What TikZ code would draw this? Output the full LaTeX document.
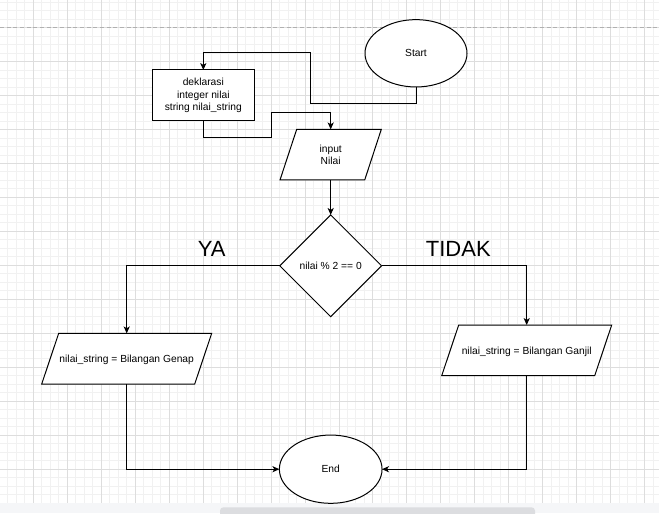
\documentclass[tikz,border=0pt]{standalone}
\usepackage{fontspec}
\setmainfont{Liberation Sans}
\usetikzlibrary{shapes.geometric,arrows.meta}
\definecolor{gridminor}{HTML}{F1F1F1}
\definecolor{gridmajor}{HTML}{DDDDDD}
\definecolor{pagebreak}{HTML}{B0B0B0}
\definecolor{bandgray}{HTML}{F5F6F8}
\definecolor{scrollgray}{HTML}{DCDDE0}
\begin{document}
\begin{tikzpicture}[x=0.75pt,y=-0.75pt,
  line/.style={draw=black, line width=0.75pt},
  arr/.style={line, -{Stealth[length=5.2pt,width=4.6pt,inset=1.4pt]}},
  shapeline/.style={draw=black, line width=0.75pt, fill=white},
  shapebase/.style={shapeline, font=\fontsize{7.7}{9.2}\selectfont, align=center, inner sep=0pt, outer sep=0pt},
  term/.style={shapebase, ellipse, minimum width=76.5pt, minimum height=50.5pt},
  procbox/.style={shapebase, rectangle, minimum width=76.5pt, minimum height=38.25pt},
  iotext/.style={font=\fontsize{7.7}{9.2}\selectfont, align=center, inner sep=0pt, outer sep=0pt, rectangle, minimum height=38pt},
  decision/.style={shapebase, diamond, minimum width=76.3pt, minimum height=76.3pt, aspect=1},
  biglabel/.style={inner sep=0pt, font=\fontsize{16.5}{18}\selectfont}
]
\useasboundingbox (0,0) rectangle (659,513);
\clip (0,0) rectangle (659,513);
\fill[white] (0,0) rectangle (659,513);
% grid
\foreach \i in {0,...,78} \draw[gridminor, line width=0.75pt] ({-0.5+8.4875*\i},0) -- ({-0.5+8.4875*\i},503.3);
\foreach \j in {0,...,59} \draw[gridminor, line width=0.75pt] (0,{2.24+8.4875*\j}) -- (659,{2.24+8.4875*\j});
\foreach \i in {0,4,...,76} \draw[gridmajor, line width=0.75pt] ({-0.5+8.4875*\i},0) -- ({-0.5+8.4875*\i},503.3);
\foreach \j in {3,7,...,59} \draw[gridmajor, line width=0.75pt] (0,{2.24+8.4875*\j}) -- (659,{2.24+8.4875*\j});
\draw[pagebreak, line width=0.75pt, dash pattern=on 3pt off 2pt] (0,27.5) -- (659,27.5);
\fill[bandgray] (0,503.3) rectangle (659,513);
\fill[scrollgray, rounded corners=2.5pt] (220,507.3) rectangle (535,520);

% parallelogram outlines (input / output boxes)
\path[shapeline] (280,180) -- (296.7,129.3) -- (381.3,129.3) -- (364.7,180) -- cycle;
\path[shapeline] (41.7,384) -- (58.7,333.3) -- (211.7,333.3) -- (194.7,384) -- cycle;
\path[shapeline] (441.7,375.7) -- (458.7,325) -- (611.7,325) -- (594.7,375.7) -- cycle;

% nodes
\node[term] (start) at (416,53.3) {Start};
\node[procbox] (dekl) at (203.3,95.5) {deklarasi\\integer nilai\\string nilai\_string};
\node[iotext, minimum width=63pt] (input) at (330.7,154.7) {input\\Nilai};
\node[decision] (dia) at (330.7,265.8) {nilai \% 2 == 0};
\node[iotext, minimum width=115pt, text height=7.6pt, text depth=1.6pt] (genap) at (126.7,358.7) {nilai\_string = Bilangan Genap};
\node[iotext, minimum width=115pt, text height=7.2pt, text depth=1.6pt] (ganjil) at (526.7,350.3) {nilai\_string = Bilangan Ganjil};
\node[term, minimum width=77pt, minimum height=51.2pt] (end) at (330.7,469.2) {End};
\node[biglabel] (ya) at (211.7,248.5) {YA};
\node[biglabel] (tidak) at (458.3,248.5) {TIDAK};

% connectors
\draw[arr] (start.south) |- (310,103.3) -- (310,52.7) -| (dekl.north);
\draw[arr] (dekl.south) |- (271,137.7) -- (271,112.7) -| (input.north);
\draw[arr] (input.south) -- (dia.north);
\draw[arr] (dia.west) -| (genap.north);
\draw[arr] (dia.east) -| (ganjil.north);
\draw[arr] (genap.south) |- (end.west);
\draw[arr] (ganjil.south) |- (end.east);
\end{tikzpicture}
\end{document}
